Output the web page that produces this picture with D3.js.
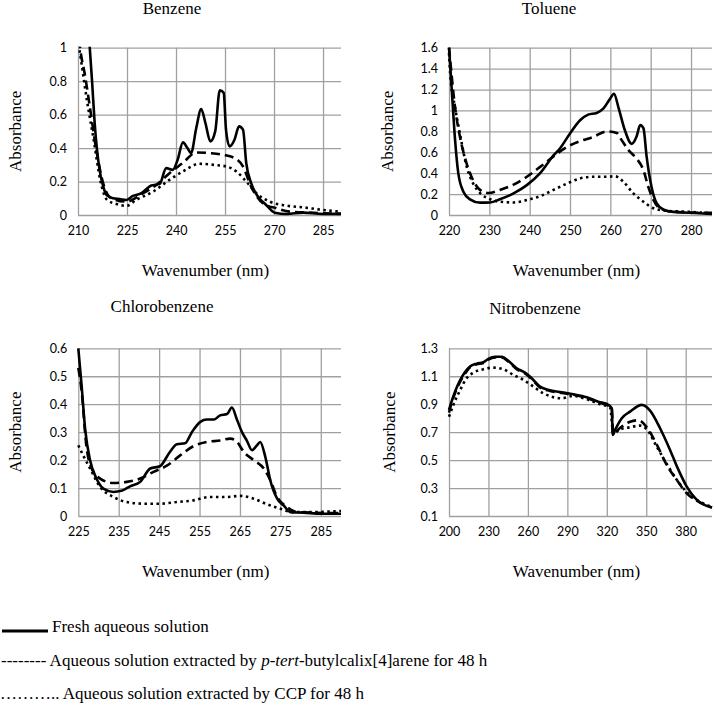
<!DOCTYPE html>
<html lang="en">
<head>
    <meta charset="UTF-8">
    <title>UV spectra</title>
    <script src="https://d3js.org/d3.v7.min.js"></script>
    <style>
        body { margin: 0; background: #fff; }
        .tick text { font-family: Lato, "Open Sans", sans-serif; font-size: 12.5px; fill: #000; }
        text.serif, g.serif text { font-family: "Liberation Serif", "DejaVu Serif", serif; fill: #000; }
    </style>
</head>
<body>
    <svg id="chart" width="714" height="714"></svg>

    <script>
        // ---- data: [wavelength nm, absorbance] ----
        const benzeneFresh = [[213.3,1.08],[213.6,1.0],[214.3,0.8],[215.1,0.55],[216.6,0.27],[217.6,0.18],[218.7,0.12],[220.7,0.1],[222.8,0.095],[224.8,0.09],[226.8,0.114],[229.4,0.13],[232.4,0.176],[235,0.186],[237,0.28],[239,0.27],[240.5,0.33],[242.1,0.434],[243.5,0.4],[244.6,0.37],[246.2,0.52],[247.7,0.634],[249,0.55],[250.5,0.44],[252,0.5],[253.4,0.746],[254.6,0.73],[255.3,0.51],[256.4,0.41],[257.9,0.45],[259.3,0.53],[260.5,0.51],[261.5,0.31],[263,0.19],[265.1,0.11],[267.6,0.06],[270.2,0.014],[273.8,0.006],[278.9,0.014],[285,0.006],[290.5,0.008]];
        const benzeneCalix = [[210.3,1.05],[211,0.95],[212,0.85],[213.6,0.65],[215.6,0.39],[217.7,0.19],[220.2,0.1],[224.8,0.08],[229.9,0.13],[234,0.18],[238,0.25],[242,0.31],[246.2,0.374],[250.3,0.37],[254.4,0.36],[258.5,0.334],[260.5,0.29],[263,0.17],[266.6,0.07],[270.7,0.04],[274.8,0.02],[280.9,0.014],[290.5,0.006]];
        const benzeneCCP = [[210.2,1.02],[211.2,0.89],[212.7,0.69],[214.8,0.45],[216.8,0.21],[218.9,0.09],[221.8,0.066],[224.8,0.054],[227.8,0.09],[233,0.14],[238,0.21],[242.1,0.26],[247.2,0.306],[251.3,0.3],[255.4,0.29],[258.5,0.26],[261.5,0.2],[264.6,0.13],[268.7,0.08],[273.8,0.056],[278.9,0.046],[285,0.03],[290.5,0.02]];

        const tolueneFresh = [[220,1.6],[220.7,1.19],[221.5,0.72],[222.3,0.4],[223.6,0.22],[225.2,0.15],[227.7,0.118],[230.2,0.12],[232.6,0.15],[236,0.207],[239.3,0.286],[242.6,0.4],[245.9,0.57],[247.5,0.636],[250,0.78],[252.5,0.906],[254.5,0.96],[256.6,0.976],[258.3,1.02],[259.9,1.11],[260.9,1.16],[262,1.03],[263.6,0.81],[265.3,0.68],[266.5,0.75],[267.4,0.86],[268.2,0.83],[269,0.556],[270.2,0.27],[271.5,0.11],[273.1,0.054],[275.6,0.03],[279.8,0.022],[285.2,0.01]];
        const tolueneCalix = [[220,1.6],[220.3,1.48],[221.5,1.03],[222.7,0.75],[224.4,0.49],[226,0.33],[227.7,0.24],[229.8,0.21],[232.6,0.24],[236,0.29],[239.3,0.366],[242.6,0.46],[245.9,0.56],[249.2,0.65],[252.5,0.706],[255.8,0.747],[259.1,0.8],[261.6,0.785],[262.8,0.716],[264.5,0.62],[266.5,0.54],[268.2,0.43],[269.4,0.27],[270.7,0.143],[272.3,0.064],[275.6,0.03],[285.2,0.02]];
        const tolueneCCP = [[220,1.55],[220.3,1.35],[221.5,1.03],[222.7,0.78],[224.4,0.46],[226,0.3],[227.7,0.21],[230.2,0.15],[232.6,0.127],[236,0.12],[239.3,0.143],[242.6,0.18],[245.9,0.24],[249.2,0.3],[252.5,0.35],[255.8,0.366],[259.1,0.366],[261.2,0.37],[263.2,0.32],[265.7,0.207],[268.2,0.127],[270.7,0.064],[274,0.04],[279.8,0.03],[285.2,0.016]];

        const chloroFresh = [[225,0.6],[225.8,0.47],[226.7,0.31],[227.9,0.2],[229.5,0.134],[231.2,0.098],[233.7,0.086],[235.7,0.09],[237.8,0.106],[240.3,0.122],[242.8,0.17],[245.2,0.178],[247.7,0.23],[249.4,0.257],[251.4,0.26],[253.1,0.3],[255.2,0.337],[256.8,0.345],[258.5,0.345],[260.1,0.36],[261.8,0.365],[263,0.388],[264.3,0.343],[265.5,0.3],[266.7,0.27],[268,0.235],[269.2,0.253],[270,0.265],[271.3,0.21],[272.5,0.128],[274.2,0.062],[275.8,0.038],[277.5,0.014],[280.8,0.012],[285,0.008],[290,0.008]];
        const chloroCalix = [[225,0.53],[225.8,0.45],[227,0.25],[228.3,0.17],[230.4,0.134],[233.7,0.118],[237,0.122],[240.3,0.134],[243.6,0.158],[246.9,0.18],[250.2,0.217],[253.5,0.25],[256.8,0.265],[260.1,0.27],[262.6,0.277],[264.3,0.265],[265.9,0.23],[268.4,0.2],[270.9,0.17],[272.5,0.128],[274.2,0.068],[276.7,0.032],[279.1,0.014],[290,0.01]];
        const chloroCCP = [[225,0.253],[226.2,0.217],[227.9,0.17],[230.4,0.104],[233.7,0.068],[237,0.05],[241.1,0.044],[245.2,0.044],[249.4,0.05],[253.5,0.056],[257.6,0.068],[261.8,0.068],[265.1,0.072],[268.4,0.062],[271.7,0.042],[275,0.026],[278.3,0.014],[282.4,0.014],[290,0.018]];

        const nitroFresh = [[200,0.86],[202,0.92],[204.6,0.99],[208.4,1.07],[212.2,1.13],[216,1.17],[221,1.19],[226.1,1.2],[229.9,1.224],[235,1.24],[240.1,1.24],[245.1,1.21],[251.5,1.157],[257.8,1.126],[262.9,1.086],[269.2,1.026],[276.8,1.0],[285.7,0.985],[294.6,0.971],[304.7,0.95],[313.6,0.918],[321.2,0.895],[323.8,0.87],[324.5,0.68],[326.3,0.716],[331.4,0.8],[337.7,0.847],[346.6,0.895],[352.9,0.854],[360.5,0.728],[368.1,0.573],[374.5,0.43],[380.8,0.31],[388.4,0.215],[400,0.16]];
        const nitroCalix = [[200,0.84],[202,0.91],[204.6,0.98],[208.4,1.06],[212.2,1.12],[216,1.165],[221,1.185],[226.1,1.195],[229.9,1.22],[235,1.235],[240.1,1.235],[245.1,1.205],[251.5,1.15],[257.8,1.12],[262.9,1.08],[269.2,1.02],[276.8,0.995],[285.7,0.98],[294.6,0.968],[304.7,0.945],[313.6,0.912],[321.2,0.89],[323.8,0.865],[324.8,0.69],[326.3,0.7],[331.4,0.74],[337.7,0.775],[344,0.785],[350.4,0.735],[358,0.61],[365.6,0.465],[373.2,0.358],[380.8,0.262],[388.4,0.21],[400,0.16]];
        const nitroCCP = [[200,0.81],[203.3,0.895],[208.4,1.0],[213.4,1.086],[218.5,1.126],[226.1,1.15],[233.7,1.162],[241.3,1.15],[248.9,1.11],[256.6,1.074],[264.2,1.026],[271.8,0.978],[279.4,0.95],[285.7,0.942],[294.6,0.959],[304.7,0.935],[314.9,0.9],[322.5,0.875],[325,0.69],[330.1,0.72],[337.7,0.735],[345.3,0.747],[350.4,0.72],[358,0.596],[365.6,0.472],[373.2,0.36],[380.8,0.27],[388.4,0.215],[400,0.165]];

        // ---- axis ticks ----
        const benzeneXTicks = [210, 225, 240, 255, 270, 285];
        const benzeneYTicks = [0, 0.2, 0.4, 0.6, 0.8, 1];
        const tolueneXTicks = [220, 230, 240, 250, 260, 270, 280];
        const tolueneYTicks = [0, 0.2, 0.4, 0.6, 0.8, 1, 1.2, 1.4, 1.6];
        const chloroXTicks = [225, 235, 245, 255, 265, 275, 285];
        const chloroYTicks = [0, 0.1, 0.2, 0.3, 0.4, 0.5, 0.6];
        const nitroXTicks = [200, 230, 260, 290, 320, 350, 380];
        const nitroYTicks = [0.1, 0.3, 0.5, 0.7, 0.9, 1.1, 1.3];

        const seriesNames = ["Fresh aqueous solution",
            "Aqueous solution extracted by p-tert-butylcalix[4]arene for 48 h",
            "Aqueous solution extracted by CCP for 48 h"];
        const dashes = [null, "9,5", "2.5,3.5"];

        const serifFont = '"Liberation Serif", "DejaVu Serif", serif';

        const panels = [
            { title: "Benzene", x0: 78, x1: 341, y0: 47.7, y1: 215, xDom: [210, 290.5], yDom: [0, 1],
              xTicks: benzeneXTicks, yTicks: benzeneYTicks, series: [benzeneFresh, benzeneCalix, benzeneCCP],
              titleX: 172, ylabX: 15 },
            { title: "Toluene", x0: 449, x1: 712, y0: 47.7, y1: 215, xDom: [220, 285.2], yDom: [0, 1.6],
              xTicks: tolueneXTicks, yTicks: tolueneYTicks, series: [tolueneFresh, tolueneCalix, tolueneCCP],
              titleX: 549, ylabX: 387 },
            { title: "Chlorobenzene", x0: 78.3, x1: 341, y0: 348.3, y1: 516, xDom: [225, 290], yDom: [0, 0.6],
              xTicks: chloroXTicks, yTicks: chloroYTicks, series: [chloroFresh, chloroCalix, chloroCCP],
              titleX: 162, ylabX: 15 },
            { title: "Nitrobenzene", x0: 449, x1: 712, y0: 348.3, y1: 516, xDom: [200, 400], yDom: [0.1, 1.3],
              xTicks: nitroXTicks, yTicks: nitroYTicks, series: [nitroFresh, nitroCalix, nitroCCP],
              titleX: 535, ylabX: 389 }
        ];

        const svg = d3.select("#chart");

        panels.forEach((p, i) => {
            const x = d3.scaleLinear().domain(p.xDom).range([p.x0, p.x1]);
            const y = d3.scaleLinear().domain(p.yDom).range([p.y1, p.y0]);
            const g = svg.append("g");

            // gridlines + tick labels
            const gx = g.append("g")
                .attr("transform", `translate(0,${p.y1})`)
                .call(d3.axisBottom(x).tickValues(p.xTicks).tickSize(-(p.y1 - p.y0)).tickPadding(11).tickFormat(d => d));
            const gy = g.append("g")
                .attr("transform", `translate(${p.x0},0)`)
                .call(d3.axisLeft(y).tickValues(p.yTicks).tickSize(-(p.x1 - p.x0)).tickPadding(11).tickFormat(d => d));
            [gx, gy].forEach(a => {
                a.select(".domain").remove();
                a.selectAll(".tick line").attr("stroke", "#a0a0a0").attr("stroke-width", 1.3);
            });

            // curves, clipped to the plot area
            const clipId = "clip" + i;
            g.append("clipPath").attr("id", clipId)
                .append("rect")
                .attr("x", p.x0 - 2).attr("y", p.y0 - 1)
                .attr("width", p.x1 - p.x0 + 4).attr("height", p.y1 - p.y0 + 3);

            const line = d3.line()
                .x(d => x(d[0]))
                .y(d => y(d[1]))
                .curve(d3.curveMonotoneX);

            p.series.forEach((s, k) => {
                g.append("path")
                    .datum(s)
                    .attr("clip-path", `url(#${clipId})`)
                    .attr("d", line)
                    .attr("fill", "none")
                    .attr("stroke", "#000")
                    .attr("stroke-width", 2.6)
                    .attr("stroke-dasharray", dashes[k]);
            });

            // titles
            const top = i < 2 ? 0 : 298;
            g.append("text").attr("class", "serif").attr("font-family", serifFont)
                .attr("x", p.titleX).attr("y", top + 14 + (i === 3 ? 2 : 0))
                .attr("text-anchor", "middle").attr("font-size", 17)
                .text(p.title);
            g.append("text").attr("class", "serif").attr("font-family", serifFont)
                .attr("x", (p.x0 + p.x1) / 2 - 4).attr("y", p.y1 + 61)
                .attr("text-anchor", "middle").attr("font-size", 17)
                .text("Wavenumber (nm)");
            g.append("text").attr("class", "serif").attr("font-family", serifFont)
                .attr("transform", `translate(${p.ylabX + 6},${(p.y0 + p.y1) / 2}) rotate(-90)`)
                .attr("text-anchor", "middle").attr("font-size", 17)
                .text("Absorbance");
        });

        // legend
        const legend = svg.append("g").attr("class", "serif")
            .attr("font-family", serifFont).attr("font-size", 17);
        legend.append("line")
            .attr("x1", 2).attr("x2", 48).attr("y1", 631).attr("y2", 631)
            .attr("stroke", "#000").attr("stroke-width", 3);
        legend.append("text").attr("x", 52).attr("y", 632).text(seriesNames[0]);

        const t2 = legend.append("text").attr("x", 1).attr("y", 666);
        t2.append("tspan").text("-------- Aqueous solution extracted by ");
        t2.append("tspan").attr("font-style", "italic").text("p-tert");
        t2.append("tspan").text("-butylcalix[4]arene for 48 h");

        legend.append("text").attr("x", 0).attr("y", 699)
            .text("……….. " + seriesNames[2]);
    </script>
</body>
</html>
